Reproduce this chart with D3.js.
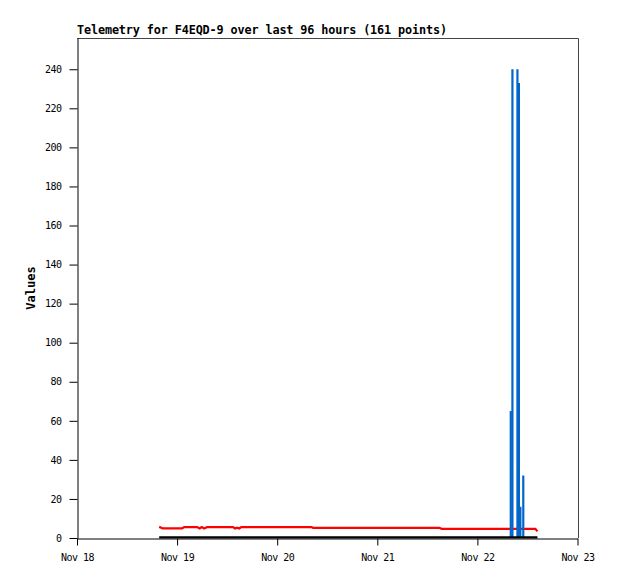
<!DOCTYPE html>
<html>
<head>
<meta charset="utf-8">
<script src="https://cdn.jsdelivr.net/npm/d3@7"></script>
<style>
  body { margin: 0; background: #fff; }
  text { font-family: "DejaVu Sans Mono", "Liberation Mono", monospace; }
</style>
</head>
<body>
<div id="chart"></div>
<script>
// hours after Nov 18 00:00 for each sample
const baseDay = Date.UTC(2023, 10, 18);
const dayTicks = ["Nov 18", "Nov 19", "Nov 20", "Nov 21", "Nov 22", "Nov 23"];
const yTicks = [0, 20, 40, 60, 80, 100, 120, 140, 160, 180, 200, 220, 240];

const redHours  = [19.7, 20.6, 25.2, 25.7, 28.8, 29.4, 29.9, 30.5, 31.2, 37.4, 37.9, 38.4, 38.9, 39.4, 56.2, 56.6, 86.9, 87.4, 109.9, 110.4];
const redValues = [5.7,  4.9,  4.9,  5.6,  5.6,  4.9,  5.6,  4.9,  5.6,  5.6,  4.9,  5.3,  4.9,  5.6,  5.6,  5.2,  5.2,  4.7,  4.7,   3.4];

const blackHours  = [19.7, 110.4];
const blackValues = [0, 0];

const blueHours  = [104.0, 104.4, 105.6, 105.95, 106.3, 107.0];
const blueValues = [65, 240, 240, 233, 16, 32];

const W = 618, H = 579;
const mLeft = 77, mRight = 578, mTop = 38, mBottom = 538;

const svg = d3.select("#chart").append("svg")
	.attr("width", W)
	.attr("height", H);

const toDate = (h) => new Date(baseDay + h * 3600e3);

const x = d3.scaleUtc()
	.domain([new Date(baseDay), new Date(baseDay + 5 * 86400e3)])
	.range([mLeft, mRight - 0.5]);
const y = d3.scaleLinear()
	.domain([0, 256])
	.range([mBottom, mTop]);

// title
svg.append("text")
	.attr("x", mLeft)
	.attr("y", 34)
	.attr("font-size", "11.8px")
	.attr("font-weight", "bold")
	.attr("textLength", 370)
	.attr("lengthAdjust", "spacing")
	.text("Telemetry for F4EQD-9 over last 96 hours (161 points)");

// frame top + right
svg.append("path")
	.attr("d", `M${mLeft},${mTop + 0.5}H${mRight + 0.5}V${mBottom}`)
	.attr("fill", "none")
	.attr("stroke", "#444");

// y axis
const yAxis = svg.append("g")
	.attr("transform", `translate(${mLeft + 0.5},0)`)
	.call(d3.axisLeft(y).tickValues(yTicks).tickSize(8).tickPadding(8).tickSizeOuter(0));
yAxis.selectAll("text")
	.attr("font-size", "10px")
	.attr("letter-spacing", "-0.5px")
	.attr("font-family", "DejaVu Sans Mono");

// x axis
const xAxis = svg.append("g")
	.attr("transform", `translate(0,${mBottom + 0.5})`)
	.call(d3.axisBottom(x)
		.tickValues(dayTicks.map((d, i) => new Date(baseDay + i * 86400e3)))
		.tickFormat((d, i) => dayTicks[i])
		.tickSize(7).tickPadding(8).tickSizeOuter(0));
xAxis.selectAll("text")
	.attr("font-size", "10px")
	.attr("letter-spacing", "-0.5px")
	.attr("font-family", "DejaVu Sans Mono");
svg.selectAll(".domain, .tick line").attr("stroke", "#000");

// y label
svg.append("text")
	.attr("transform", `translate(35,${(mTop + mBottom) / 2}) rotate(-90)`)
	.attr("text-anchor", "middle")
	.attr("font-size", "12px")
	.attr("font-weight", "bold")
	.text("Values");

const lineGen = d3.line()
	.x((d) => x(toDate(d[0])))
	.y((d) => y(d[1]));

// red series
svg.append("path")
	.datum(d3.zip(redHours, redValues))
	.attr("d", lineGen)
	.attr("fill", "none")
	.attr("stroke", "#ff0000")
	.attr("stroke-width", 2.2);

// blue impulses
svg.append("g")
	.selectAll("line")
	.data(d3.zip(blueHours, blueValues))
	.join("line")
	.attr("x1", (d) => x(toDate(d[0])))
	.attr("x2", (d) => x(toDate(d[0])))
	.attr("y1", y(0))
	.attr("y2", (d) => y(d[1]))
	.attr("stroke", "#0066cc")
	.attr("stroke-width", 2.2);

// black series at zero
svg.append("path")
	.datum(d3.zip(blackHours, blackValues))
	.attr("d", lineGen)
	.attr("fill", "none")
	.attr("stroke", "#000")
	.attr("stroke-width", 2.2)
	.attr("transform", "translate(0,-0.7)");
</script>
</body>
</html>
